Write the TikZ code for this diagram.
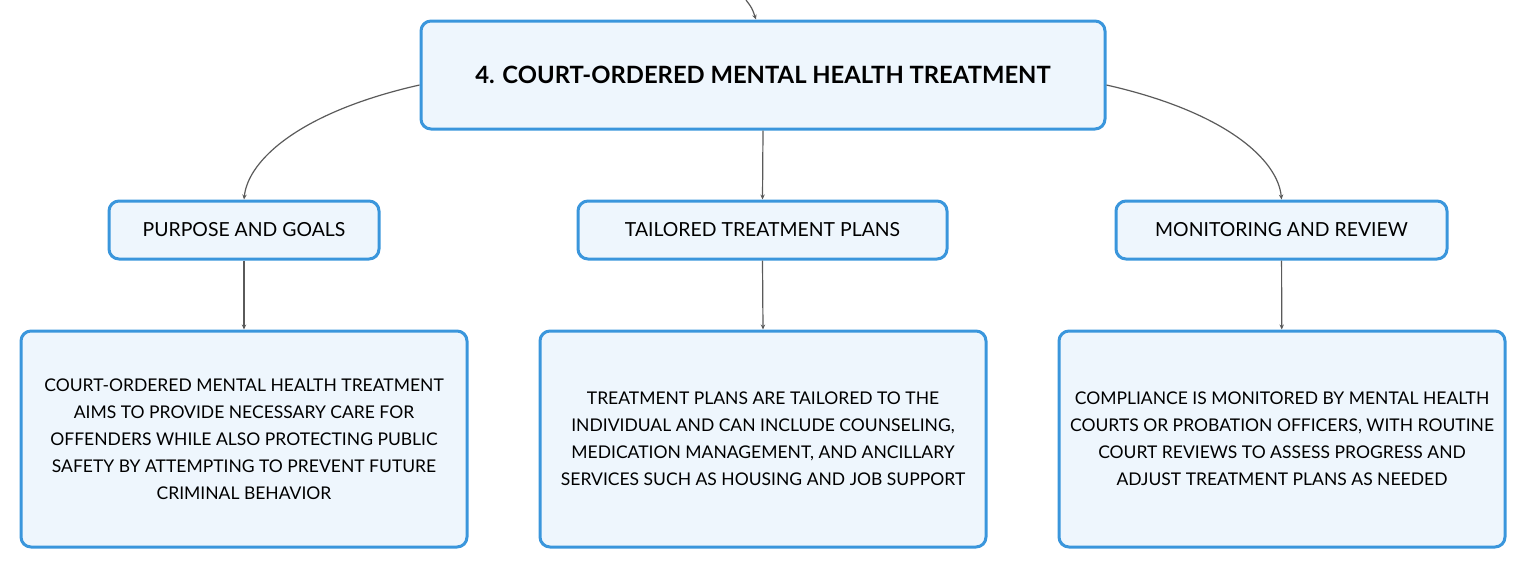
\documentclass[tikz,border=0pt]{standalone}
\usepackage{fontspec}
\setmainfont{Lato}
\usetikzlibrary{arrows.meta,positioning}

\definecolor{boxblue}{HTML}{3A96DC}
\definecolor{boxfill}{HTML}{EEF6FD}
\definecolor{linkgray}{HTML}{5A5A5A}

\begin{document}
\begin{tikzpicture}[x=0.5pt,y=-0.5pt,>={Stealth[length=2.5pt,width=2.2pt]},
    box/.style={draw=boxblue,fill=boxfill,line width=1.5pt,rounded corners=5pt,align=center,inner sep=0pt},
    topbox/.style={box,minimum width=342pt,minimum height=54pt,font=\fontsize{11.9}{14}\selectfont\bfseries},
    midbox/.style={box,minimum height=29pt,font=\fontsize{9.7}{12}\selectfont},
    textbox/.style={box,minimum width=223pt,minimum height=108pt,font=\fontsize{8.75}{13.5}\selectfont},
    link/.style={draw=linkgray,line width=0.6pt,->}]
    \useasboundingbox (0,0) rectangle (1527,569);
    % main topic
    \node[topbox] (court) at (763,75) {4. COURT-ORDERED MENTAL HEALTH TREATMENT};
    \coordinate (parent) at (746,0);
    % subtopics
    \node[midbox,minimum width=135pt] (purpose) at (244,230) {PURPOSE AND GOALS};
    \node[midbox,minimum width=184.5pt] (plans) at (762.5,230) {TAILORED TREATMENT PLANS};
    \node[midbox,minimum width=165.5pt] (review) at (1281.5,230) {MONITORING AND REVIEW};
    % details
    \node[textbox] (purposetxt) at (244,439) {COURT-ORDERED MENTAL HEALTH TREATMENT\\AIMS TO PROVIDE NECESSARY CARE FOR\\OFFENDERS WHILE ALSO PROTECTING PUBLIC\\SAFETY BY ATTEMPTING TO PREVENT FUTURE\\CRIMINAL BEHAVIOR};
    \node[textbox] (planstxt) at (763,439) {TREATMENT PLANS ARE TAILORED TO THE\\INDIVIDUAL AND CAN INCLUDE COUNSELING,\\MEDICATION MANAGEMENT, AND ANCILLARY\\SERVICES SUCH AS HOUSING AND JOB SUPPORT};
    \node[textbox] (reviewtxt) at (1282,439) {COMPLIANCE IS MONITORED BY MENTAL HEALTH\\COURTS OR PROBATION OFFICERS, WITH ROUTINE\\COURT REVIEWS TO ASSESS PROGRESS AND\\ADJUST TREATMENT PLANS AS NEEDED};
    % connectors
    \draw[link] (parent) .. controls (752,8) .. ([xshift=-3.5pt]court.north);
    \draw[link] ([yshift=-5pt]court.west) .. controls (300,112) and (248,160) .. (purpose.north);
    \draw[link] (court.south) -- (plans.north);
    \draw[link] ([yshift=-5pt]court.east) .. controls (1226,112) and (1278,160) .. (review.north);
    \draw[link] (purpose) -- (purposetxt);
    \draw[link] (plans.south) -- (planstxt.north);
    \draw[link] (review) -- (reviewtxt);
\end{tikzpicture}
\end{document}
